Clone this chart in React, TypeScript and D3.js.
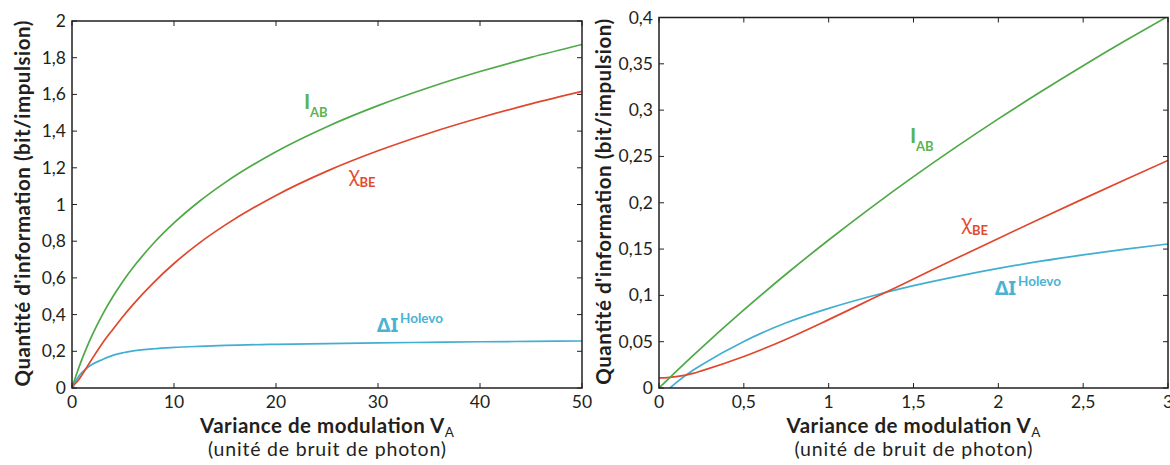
import React from "react";
import * as d3 from "d3";

// ---------- DATA ----------
const LEFT_V = [0, 0.5, 1, 1.5, 2, 3, 4, 5, 6, 8, 10, 12.5, 15, 20, 25, 30, 35, 40, 45, 50];
const LEFT_IAB = [0, 0.0843, 0.1598, 0.2282, 0.2906, 0.4012, 0.4971, 0.5817, 0.6575, 0.7886, 0.8995, 1.0178, 1.1194, 1.2877, 1.424, 1.5386, 1.6375, 1.7245, 1.802, 1.8721];
const LEFT_CHI = [0.011, 0.034, 0.0738, 0.1177, 0.1615, 0.2457, 0.3191, 0.3897, 0.4555, 0.5746, 0.6785, 0.7908, 0.8874, 1.0497, 1.182, 1.2926, 1.3885, 1.4725, 1.548, 1.6161];
const LEFT_DI = [-0.011, 0.0503, 0.086, 0.1105, 0.1291, 0.1555, 0.178, 0.192, 0.202, 0.214, 0.221, 0.227, 0.232, 0.238, 0.242, 0.246, 0.249, 0.252, 0.254, 0.256];

const RIGHT_V = [0, 0.05, 0.1, 0.2, 0.25, 0.5, 0.75, 1, 1.25, 1.5, 1.75, 2, 2.25, 2.5, 2.75, 3];
const RIGHT_IAB = [0, 0.00889, 0.01767, 0.03492, 0.04339, 0.08432, 0.12306, 0.15981, 0.19479, 0.22815, 0.26003, 0.29055, 0.31985, 0.348, 0.3751, 0.40121];
const RIGHT_CHI = [0.011, 0.0113, 0.0122, 0.0158, 0.0185, 0.034, 0.0527, 0.0738, 0.0957, 0.1177, 0.1397, 0.1615, 0.183, 0.2042, 0.2251, 0.2457];
const RIGHT_DI = [-0.011, -0.0024, 0.0055, 0.0191, 0.0249, 0.0503, 0.0704, 0.086, 0.0991, 0.1105, 0.1203, 0.1291, 0.1369, 0.1438, 0.15, 0.1555];

const LEFT_XTICKS = [0, 10, 20, 30, 40, 50];
const LEFT_YTICKS = [0, 0.2, 0.4, 0.6, 0.8, 1, 1.2, 1.4, 1.6, 1.8, 2];
const RIGHT_XTICKS = [0, 0.5, 1, 1.5, 2, 2.5, 3];
const RIGHT_YTICKS = [0, 0.05, 0.1, 0.15, 0.2, 0.25, 0.3, 0.35, 0.4];

const Y_TITLE = "Quantité d'information (bit/impulsion)";
const X_TITLE = "Variance de modulation V";
const X_TITLE_SUB = "A";
const X_SUBTITLE = "(unité de bruit de photon)";

// label anchor positions (data coords)
const LEFT_LABELS = { iab: [22.75, 1.52], chi: [27.1, 1.13], di: [29.9, 0.305] };
const RIGHT_LABELS = { iab: [1.48, 0.265], chi: [1.78, 0.172], di: [1.98, 0.1] };

const GREEN = "#4ea947";
const RED = "#e0472c";
const CYAN = "#42afd1";
const GREEN_T = "#5bb452";
const RED_T = "#e34b30";
const CYAN_T = "#4ab3d4";
const INK = "#231f20";
const FONT = "Lato, 'Open Sans', 'Noto Sans', sans-serif";
const GREEK = "'Noto Sans', 'DejaVu Sans', sans-serif";

const fmt = (v: number) => String(+v.toFixed(2)).replace(".", ",");

type PanelProps = {
  id: string;
  left: number; right: number; top: number; bottom: number;
  xMax: number; yMax: number;
  xTicks: number[]; yTicks: number[];
  V: number[]; iab: number[]; chi: number[]; di: number[];
  labels: { iab: number[]; chi: number[]; di: number[] };
  yTitleX: number;
};

function Panel(p: PanelProps) {
  const x = d3.scaleLinear().domain([0, p.xMax]).range([p.left, p.right]);
  const y = d3.scaleLinear().domain([0, p.yMax]).range([p.bottom, p.top]);
  const mk = (vals: number[]) =>
    d3.line<number>().x((_, i) => x(p.V[i])).y((d) => y(d)).curve(d3.curveMonotoneX)(vals) || "";
  const tl = 5;
  const cx = (p.left + p.right) / 2;
  const cy = (p.top + p.bottom) / 2;
  const [ix, iy] = [x(p.labels.iab[0]), y(p.labels.iab[1])];
  const [chx, chy] = [x(p.labels.chi[0]), y(p.labels.chi[1])];
  const [dx, dy] = [x(p.labels.di[0]), y(p.labels.di[1])];
  return (
    <g>
      <defs>
        <clipPath id={p.id}>
          <rect x={p.left} y={p.top} width={p.right - p.left} height={p.bottom - p.top} />
        </clipPath>
      </defs>
      <g clipPath={`url(#${p.id})`} fill="none" strokeWidth={1.7}>
        <path d={mk(p.di)} stroke={CYAN} />
        <path d={mk(p.chi)} stroke={RED} />
        <path d={mk(p.iab)} stroke={GREEN} />
      </g>
      {/* ticks */}
      <g stroke={INK} strokeWidth={1}>
        {p.xTicks.map((t) => (
          <g key={"xt" + t}>
            <line x1={x(t)} x2={x(t)} y1={p.bottom} y2={p.bottom - tl} />
            <line x1={x(t)} x2={x(t)} y1={p.top} y2={p.top + tl} />
          </g>
        ))}
        {p.yTicks.map((t) => (
          <g key={"yt" + t}>
            <line x1={p.left} x2={p.left + tl} y1={y(t)} y2={y(t)} />
            <line x1={p.right} x2={p.right - tl} y1={y(t)} y2={y(t)} />
          </g>
        ))}
      </g>
      <rect x={p.left} y={p.top} width={p.right - p.left} height={p.bottom - p.top} fill="none" stroke={INK} strokeWidth={1.5} />
      {/* tick labels */}
      <g fontFamily={FONT} fontSize={17.5} fill={INK}>
        {p.xTicks.map((t) => (
          <text key={"xl" + t} x={x(t)} y={p.bottom + 20} textAnchor="middle">{fmt(t)}</text>
        ))}
        {p.yTicks.map((t) => (
          <text key={"yl" + t} x={p.left - 6} y={y(t) + 6} textAnchor="end">{fmt(t)}</text>
        ))}
      </g>
      {/* axis titles */}
      <text transform={`translate(${p.yTitleX},${cy - 1}) rotate(-90)`} textAnchor="middle" fontFamily={FONT} fontWeight="bold" fontSize={20.5} fill={INK} textLength={366} lengthAdjust="spacing">{Y_TITLE}</text>
      <text x={cx} y={433} textAnchor="middle" fontFamily={FONT} fontWeight="bold" fontSize={20.5} fill={INK} textLength={254} lengthAdjust="spacing">
        {X_TITLE}
        <tspan fontWeight="normal" fontSize={13.5} dy={4}>{X_TITLE_SUB}</tspan>
      </text>
      <text x={cx} y={456} textAnchor="middle" fontFamily={FONT} fontSize={19.5} fill={INK} textLength={238} lengthAdjust="spacing">{X_SUBTITLE}</text>
      {/* series labels */}
      <text x={ix} y={iy} fontFamily={FONT} fontWeight="bold" fontSize={21} fill={GREEN_T}>I</text>
      <text x={ix + 6} y={iy + 8} fontFamily={FONT} fontWeight="bold" fontSize={13} fill={GREEN_T}>AB</text>
      <text x={chx} y={chy} fontFamily={GREEK} fontSize={19} fill={RED_T}>χ</text>
      <text x={chx + 11} y={chy + 6} fontFamily={FONT} fontWeight="bold" fontSize={13} fill={RED_T}>BE</text>
      <text x={dx} y={dy} fontFamily={GREEK} fontWeight="bold" fontSize={20} fill={CYAN_T}>ΔI</text>
      <text x={dx + 23} y={dy - 9} fontFamily={FONT} fontWeight="bold" fontSize={13.5} fill={CYAN_T}>Holevo</text>
    </g>
  );
}

export default function App() {
  return (
    <svg width={1170} height={465} style={{ position: "absolute", left: 0, top: 0, background: "#fff" }}>
      <rect width={1170} height={465} fill="#fff" />
      <Panel id="clipL" left={72} right={582} top={21} bottom={388} xMax={50} yMax={2}
        xTicks={LEFT_XTICKS} yTicks={LEFT_YTICKS} V={LEFT_V} iab={LEFT_IAB} chi={LEFT_CHI} di={LEFT_DI}
        labels={LEFT_LABELS} yTitleX={30} />
      <Panel id="clipR" left={659} right={1168} top={17.5} bottom={388} xMax={3} yMax={0.4}
        xTicks={RIGHT_XTICKS} yTicks={RIGHT_YTICKS} V={RIGHT_V} iab={RIGHT_IAB} chi={RIGHT_CHI} di={RIGHT_DI}
        labels={RIGHT_LABELS} yTitleX={611} />
    </svg>
  );
}
